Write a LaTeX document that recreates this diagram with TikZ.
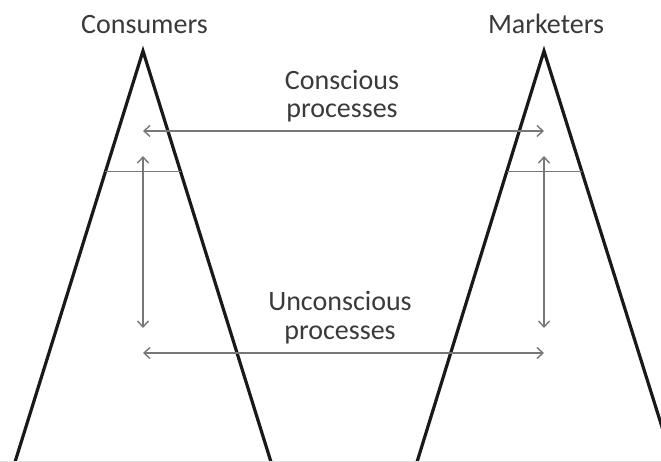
\documentclass[tikz,border=0pt]{standalone}
\usepackage{fontspec}
\setmainfont{Carlito}
\usetikzlibrary{arrows.meta,calc}
\definecolor{txt}{HTML}{3A3A3A}
\definecolor{arr}{HTML}{777777}
\tikzset{
  leg/.style={line width=3.2bp, black!90, line join=miter},
  bar/.style={line width=1.2bp, arr},
  flow/.style={line width=1.4bp, arr, {Straight Barb[length=6bp,width=11bp]}-{Straight Barb[length=6bp,width=11bp]}},
  lbl/.style={font=\fontsize{28bp}{28bp}\selectfont, text=txt, inner sep=0pt, align=center, anchor=base},
}
\begin{document}
\begin{tikzpicture}[x=1bp,y=-1bp]
\useasboundingbox (0,0) rectangle (661,462);
\fill[white] (0,0) rectangle (661,462);
\clip (0,0) rectangle (661,462);
% triangles
\coordinate (la) at (143,51);
\coordinate (lbl) at (15,462);
\coordinate (lbr) at (271,462);
\coordinate (ra) at (544,51);
\coordinate (rbl) at (417,462);
\coordinate (rbr) at (673,462);
\draw[leg] (lbl) -- (la) -- (lbr);
\draw[leg] (rbl) -- (ra) -- (rbr);
% bottom faint line
\draw[line width=1bp, black!12] (0,461.5) -- (661,461.5);
% bars
\draw[bar] ($(la)!0.293!(lbl)$) coordinate (lb1) -- ($(la)!0.293!(lbr)$) coordinate (lb2);
\draw[bar] ($(ra)!0.293!(rbl)$) coordinate (rb1) -- ($(ra)!0.293!(rbr)$) coordinate (rb2);
% arrow endpoints
\coordinate (ct1) at (143,131);
\coordinate (ct2) at (544,131);
\coordinate (cu1) at (143,353);
\coordinate (cu2) at (544,353);
\coordinate (lv1) at (143,156);
\coordinate (lv2) at (143,328);
\coordinate (rv1) at (544,156);
\coordinate (rv2) at (544,328);
\draw[flow] (ct1) -- (ct2);
\draw[flow] (cu1) -- (cu2);
\draw[flow] (lv1) -- (lv2);
\draw[flow] (rv1) -- (rv2);
% labels
\node[lbl] (cons) at (144.5,34) {Consumers};
\node[lbl] (mark) at (546,34) {Marketers};
\node[lbl] (consc) at (342,118) {Conscious\\processes};
\node[lbl] (uncon) at (340,339) {Unconscious\\processes};
\end{tikzpicture}
\end{document}
